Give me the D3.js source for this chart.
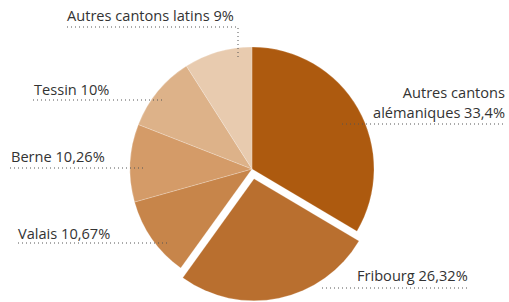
<!DOCTYPE html>
<html>
<head>
<meta charset="utf-8">
<script src="https://cdn.jsdelivr.net/npm/d3@7"></script>
<style>
  body { margin: 0; background: #fff; }
  svg text { font-family: "Open Sans", "Noto Sans", sans-serif; font-size: 14.6px; fill: #333; }
</style>
</head>
<body>
<svg></svg>
<script>
// slices, clockwise from 12 o'clock
var cantons = ["Autres cantons alémaniques", "Fribourg", "Valais", "Berne", "Tessin", "Autres cantons latins"]
var shares = [33.4, 26.32, 10.67, 10.26, 10, 9]
var shareLabels = ["33,4%", "26,32%", "10,67%", "10,26%", "10%", "9%"]
var colours = ["#ad5a0f", "#b96f2f", "#c7854a", "#d49b68", "#ddb289", "#e8cbaf"]

var width = 509;
var height = 302;
var cx = 252, cy = 169, radius = 122;

var svg = d3.select("svg")
  .attr("width", width)
  .attr("height", height)

var pie = d3.pie().sort(null).value(function(d){ return d; })
var arcs = pie(shares)

var arc = d3.arc().innerRadius(0).outerRadius(radius)

var g = svg.append("g")
  .attr("transform", "translate(" + cx + "," + cy + ")")

g.selectAll("path")
  .data(arcs)
  .enter()
  .append("path")
  .attr("d", arc)
  .attr("fill", function(d, i){ return colours[i]; })
  .attr("stroke", "rgba(255,255,255,0.35)")
  .attr("stroke-width", 0.6)
  .attr("transform", function(d, i){
    if (i != 1) return null;
    // Fribourg pulled out
    var c = arc.centroid(d), len = Math.sqrt(c[0]*c[0] + c[1]*c[1]), off = 10;
    return "translate(" + (c[0]/len*off) + "," + (c[1]/len*off) + ")";
  })

// label layout: text position and leader line points (page coords)
var layout = [
  { lines: ["Autres cantons", "alémaniques " + shareLabels[0]], x: 505, y: 98, anchor: "end", path: [[342,124],[505,124]] },
  { lines: ["Fribourg " + shareLabels[1]], x: 357, y: 281, anchor: "start", path: [[322,288],[467,288]] },
  { lines: ["Valais " + shareLabels[2]], x: 18, y: 239, anchor: "start", path: [[18,243],[170,243]] },
  { lines: ["Berne " + shareLabels[3]], x: 11, y: 162, anchor: "start", path: [[10,168],[144,168]] },
  { lines: ["Tessin " + shareLabels[4]], x: 34, y: 95, anchor: "start", path: [[33,100],[163,100]] },
  { lines: ["Autres cantons latins " + shareLabels[5]], x: 67, y: 21, anchor: "start", path: [[67,27],[238,27],[238,60]] }
]

var line = d3.line()

svg.selectAll(".leader")
  .data(layout)
  .enter()
  .append("path")
  .attr("class", "leader")
  .attr("d", function(d){ return line(d.path); })
  .attr("fill", "none")
  .attr("stroke", "#555")
  .attr("stroke-width", 1)
  .attr("stroke-dasharray", "1,3")

layout.forEach(function(d){
  d.lines.forEach(function(s, k){
    svg.append("text")
      .attr("class", "label")
      .attr("x", d.x)
      .attr("y", d.y + k*20)
      .attr("text-anchor", d.anchor)
      .text(s)
  })
})
</script>
</body>
</html>
